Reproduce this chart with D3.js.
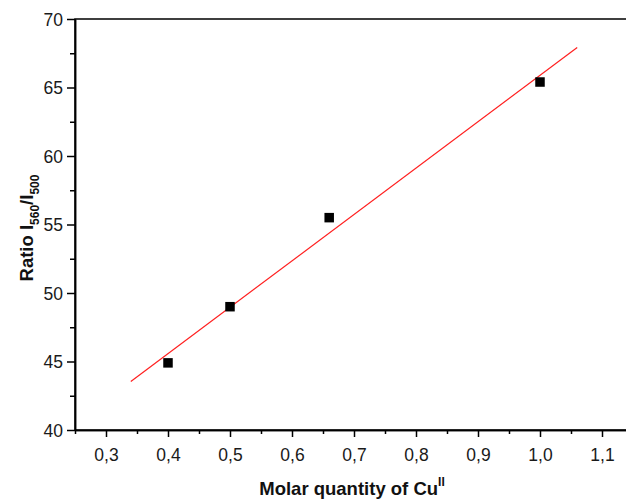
<!DOCTYPE html>
<html><head><meta charset="utf-8">
<script src="https://cdn.jsdelivr.net/npm/d3@7"></script>
<style>body{margin:0;background:#fff;}svg{display:block;font-family:"Liberation Sans",Arial,sans-serif;}</style>
</head><body>
<svg id="c" width="626" height="499"></svg>
<script>
const xValues = [0.4, 0.5, 0.66, 1.0];
const yValues = [44.9, 49.0, 55.5, 65.4];
const fitX = [0.34, 1.06];
const fitSlope = 33.87;
const fitIntercept = 32.02;
const xTicks = [0.3,0.4,0.5,0.6,0.7,0.8,0.9,1.0,1.1];
const xMinor = [0.25,0.35,0.45,0.55,0.65,0.75,0.85,0.95,1.05,1.15];
const yTicks = [40,45,50,55,60,65,70];
const yMinor = [42.5,47.5,52.5,57.5,62.5,67.5];

const svg = d3.select("#c");
const L=75, T=19, B=430, R=633;
const x = d3.scaleLinear().domain([0.25,1.15]).range([L,R]);
const y = d3.scaleLinear().domain([40,70]).range([B,T]);
const fmt = d => d3.format(".1f")(d).replace(".", ",");

svg.append("rect").attr("x",L).attr("y",T).attr("width",R-L).attr("height",B-T)
  .attr("fill","none").attr("stroke","#000").attr("stroke-width",1.5);

const gx = svg.append("g").attr("transform",`translate(0,${B})`)
  .call(d3.axisBottom(x).tickValues(xTicks).tickFormat(fmt).tickSize(7).tickSizeOuter(0));
const gxm = svg.append("g").attr("transform",`translate(0,${B})`)
  .call(d3.axisBottom(x).tickValues(xMinor).tickFormat("").tickSize(4).tickSizeOuter(0));
const gy = svg.append("g").attr("transform",`translate(${L},0)`)
  .call(d3.axisLeft(y).tickValues(yTicks).tickSize(8).tickSizeOuter(0));
const gym = svg.append("g").attr("transform",`translate(${L},0)`)
  .call(d3.axisLeft(y).tickValues(yMinor).tickFormat("").tickSize(5).tickSizeOuter(0));
[gx,gxm,gy,gym].forEach(g=>{
  g.attr("font-size",null).attr("font-family",null);
  g.select(".domain").attr("stroke","#000").attr("stroke-width",1.5);
  g.selectAll("line").attr("stroke","#000").attr("stroke-width",1.5);
  g.selectAll("text").style("font-size","17.5px").attr("fill","#1a1a1a")
   .style("font-family","'Liberation Sans',Arial,sans-serif");
});
gx.selectAll("text").attr("y",19).attr("dy","0.71em");
gy.selectAll("text").attr("x",-12).attr("dy","0.35em");

svg.append("line")
  .attr("x1",x(fitX[0])).attr("y1",y(fitIntercept+fitSlope*fitX[0]))
  .attr("x2",x(fitX[1])).attr("y2",y(fitIntercept+fitSlope*fitX[1]))
  .attr("stroke","#ff2020").attr("stroke-width",1.2);

const s=9.5;
svg.selectAll("rect.pt").data(xValues.map((d,i)=>[d,yValues[i]])).enter()
  .append("rect").attr("class","pt")
  .attr("x",d=>x(d[0])-s/2).attr("y",d=>y(d[1])-s/2)
  .attr("width",s).attr("height",s).attr("fill","#000");

const xt = svg.append("text").attr("x",352).attr("y",495).attr("text-anchor","middle")
  .style("font-size","18.5px").attr("font-weight","bold").attr("fill","#111");
xt.append("tspan").text("Molar quantity of Cu");
xt.append("tspan").text("II").style("font-size","12px").attr("dy",-9);

const yt = svg.append("text").attr("transform","translate(33,228) rotate(-90)")
  .attr("text-anchor","middle").style("font-size","18.5px").attr("font-weight","bold").attr("fill","#111");
yt.append("tspan").text("Ratio I");
yt.append("tspan").text("560").style("font-size","12px").attr("dy",6);
yt.append("tspan").text("/I").attr("dy",-6);
yt.append("tspan").text("500").style("font-size","12px").attr("dy",6);
</script>
</body></html>
